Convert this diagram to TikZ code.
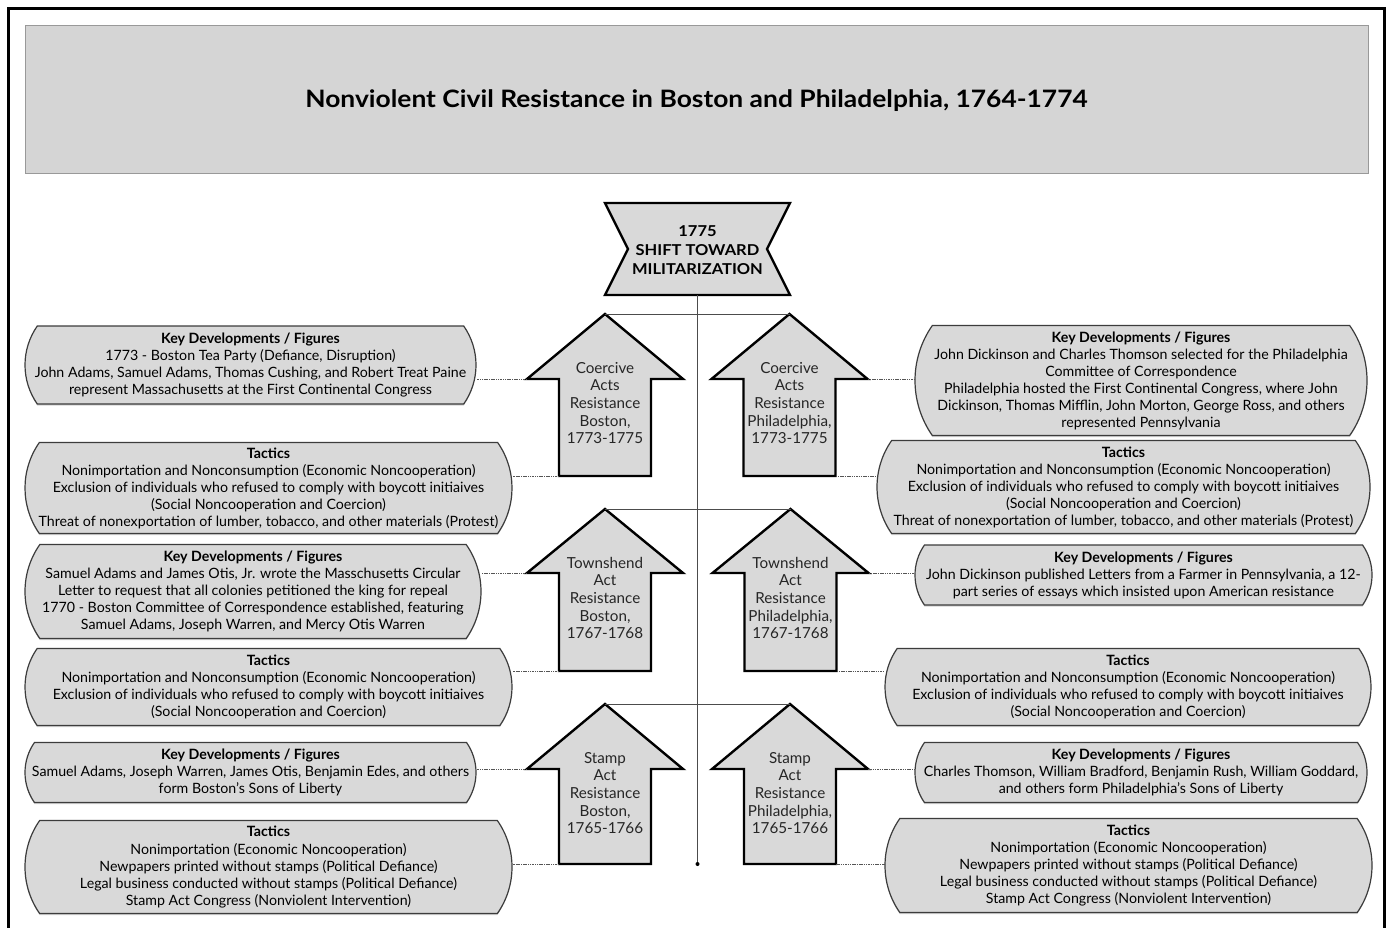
\documentclass[tikz,border=0pt]{standalone}
\usepackage{fontspec}
\setmainfont{Lato}
\newfontfamily\widefont[FakeStretch=1.1]{Lato}
\usetikzlibrary{shapes.misc,shadows}
\definecolor{boxfill}{HTML}{D9D9D9}
\definecolor{titlefill}{HTML}{D5D5D5}
\definecolor{boxline}{HTML}{3C3C3C}
\definecolor{connline}{HTML}{555555}
\newcommand\myuparr[6]{%
  \draw[arrowshape] (#2,#3) coordinate (#1-tip) -- (#2+78,#4) coordinate (#1-wr) -- (#2+46,#4) -- (#2+46,#5) coordinate (#1-br) -- (#2-46,#5) coordinate (#1-bl) -- (#2-46,#4) -- (#2-78,#4) coordinate (#1-wl) -- cycle;
  \node[arrowtext] (#1) at (#2,#3+89) {#6};
}
\begin{document}
\begin{tikzpicture}[x=1pt,y=-1pt,
  kbox/.style={rounded rectangle, rounded rectangle arc length=70, draw=boxline, line width=1.2pt,
    fill=boxfill, align=center, inner sep=0pt, font=\fontsize{14.2}{17}\selectfont,
    drop shadow={opacity=0.35, shadow xshift=0pt, shadow yshift=-1.5pt}},
  arrowshape/.style={draw=black, line width=2.4pt, fill=boxfill, line join=miter},
  arrowtext/.style={align=center, inner sep=0pt, font=\fontsize{15.2}{17.6}\selectfont, text=black!85},
  conn/.style={draw=connline, line width=0.8pt, dash pattern=on 1.5pt off 0.8pt},
  tipline/.style={draw=black!70, line width=0.8pt}]
\useasboundingbox (0,0) rectangle (1391,927);
\fill[white] (0,0) rectangle (1391,927);
% frame
\draw[line width=3pt] (8.5,930) -- (8.5,8.5) -- (1384,8.5) -- (1384,930);
% title
\fill[titlefill, draw=black!40, line width=0.8pt] (25,25) rectangle (1368,173);
\node[inner sep=0pt, font=\widefont\fontsize{24}{28}\selectfont\bfseries] (title) at (696.5,101) {Nonviolent Civil Resistance in Boston and Philadelphia, 1764-1774};
% top shape
\draw[arrowshape] (605,203) -- (790,203) -- (767,249) -- (790,295) coordinate (topbr) -- (605,295) -- (628,249) -- cycle;
\node[align=center, inner sep=0pt, font=\widefont\fontsize{15}{19}\selectfont\bfseries] (top) at (697.5,250) {1775\\SHIFT TOWARD\\MILITARIZATION};
\coordinate (topb) at (697.5,295);
\coordinate (endpt) at (697.5,864);
\draw[tipline] (topb) -- (endpt);
\fill[black] (endpt) circle (2pt);
% arrows
\myuparr{cB}{605}{314}{379}{476}{Coercive\\Acts\\Resistance\\Boston,\\1773-1775}
\myuparr{cP}{789.5}{314}{379}{476}{Coercive\\Acts\\Resistance\\Philadelphia,\\1773-1775}
\myuparr{tB}{605}{509}{573}{671}{Townshend\\Act\\Resistance\\Boston,\\1767-1768}
\myuparr{tP}{790.5}{509}{573}{671}{Townshend\\Act\\Resistance\\Philadelphia,\\1767-1768}
\myuparr{sB}{605}{704}{769}{864}{Stamp\\Act\\Resistance\\Boston,\\1765-1766}
\myuparr{sP}{790}{704}{769}{864}{Stamp\\Act\\Resistance\\Philadelphia,\\1765-1766}
\draw[tipline] (cB-tip) -- (cP-tip);
\draw[tipline] (tB-tip) -- (tP-tip);
\draw[tipline] (sB-tip) -- (sP-tip);
% left boxes
\node[kbox, minimum width=451pt, minimum height=78pt] (L1) at (250.5,365) {\textbf{Key Developments / Figures}\\1773 - Boston Tea Party (Defiance, Disruption)\\John Adams, Samuel Adams, Thomas Cushing, and Robert Treat Paine\\represent Massachusetts at the First Continental Congress};
\node[kbox, minimum width=487pt, minimum height=91pt] (L2) at (268.5,488) {\textbf{Tactics}\\Nonimportation and Nonconsumption (Economic Noncooperation)\\Exclusion of individuals who refused to comply with boycott initiaives\\(Social Noncooperation and Coercion)\\Threat of nonexportation of lumber, tobacco, and other materials (Protest)};
\node[kbox, minimum width=456pt, minimum height=94pt] (L3) at (253,591.5) {\textbf{Key Developments / Figures}\\Samuel Adams and James Otis, Jr. wrote the Masschusetts Circular\\Letter to request that all colonies petitioned the king for repeal\\1770 - Boston Committee of Correspondence established, featuring\\Samuel Adams, Joseph Warren, and Mercy Otis Warren};
\node[kbox, minimum width=487pt, minimum height=77pt] (L4) at (268.5,687) {\textbf{Tactics}\\Nonimportation and Nonconsumption (Economic Noncooperation)\\Exclusion of individuals who refused to comply with boycott initiaives\\(Social Noncooperation and Coercion)};
\node[kbox, minimum width=451pt, minimum height=60pt] (L5) at (250.5,772.5) {\textbf{Key Developments / Figures}\\Samuel Adams, Joseph Warren, James Otis, Benjamin Edes, and others\\form Boston's Sons of Liberty};
\node[kbox, minimum width=487pt, minimum height=93pt] (L6) at (268.5,867) {\textbf{Tactics}\\Nonimportation (Economic Noncooperation)\\Newpapers printed without stamps (Political Defiance)\\Legal business conducted without stamps (Political Defiance)\\Stamp Act Congress (Nonviolent Intervention)};
% right boxes
\node[kbox, minimum width=452pt, minimum height=110pt] (R1) at (1141,380.5) {\textbf{Key Developments / Figures}\\John Dickinson and Charles Thomson selected for the Philadelphia\\Committee of Correspondence\\Philadelphia hosted the First Continental Congress, where John\\Dickinson, Thomas Mifflin, John Morton, George Ross, and others\\represented Pennsylvania};
\node[kbox, minimum width=493pt, minimum height=93pt] (R2) at (1123.5,487) {\textbf{Tactics}\\Nonimportation and Nonconsumption (Economic Noncooperation)\\Exclusion of individuals who refused to comply with boycott initiaives\\(Social Noncooperation and Coercion)\\Threat of nonexportation of lumber, tobacco, and other materials (Protest)};
\node[kbox, minimum width=457pt, minimum height=60pt] (R3) at (1143.5,575) {\textbf{Key Developments / Figures}\\John Dickinson published Letters from a Farmer in Pennsylvania, a 12-\\part series of essays which insisted upon American resistance};
\node[kbox, minimum width=486pt, minimum height=77pt] (R4) at (1128,687) {\textbf{Tactics}\\Nonimportation and Nonconsumption (Economic Noncooperation)\\Exclusion of individuals who refused to comply with boycott initiaives\\(Social Noncooperation and Coercion)};
\node[kbox, minimum width=452pt, minimum height=60pt] (R5) at (1141,772.5) {\textbf{Key Developments / Figures}\\Charles Thomson, William Bradford, Benjamin Rush, William Goddard,\\and others form Philadelphia's Sons of Liberty};
\node[kbox, minimum width=487pt, minimum height=94pt] (R6) at (1128.5,865.5) {\textbf{Tactics}\\Nonimportation (Economic Noncooperation)\\Newpapers printed without stamps (Political Defiance)\\Legal business conducted without stamps (Political Defiance)\\Stamp Act Congress (Nonviolent Intervention)};
% connectors
\draw[conn] (cB-wl) -- (cB-wl -| L1.east);
\draw[conn] (cB-bl) -- (cB-bl -| L2.east);
\draw[conn] (tB-wl) -- (tB-wl -| L3.east);
\draw[conn] (tB-bl) -- (tB-bl -| L4.east);
\draw[conn] (sB-wl) -- (sB-wl -| L5.east);
\draw[conn] (sB-bl) -- (sB-bl -| L6.east);
\draw[conn] (cP-wr) -- (cP-wr -| R1.west);
\draw[conn] (cP-br) -- (cP-br -| R2.west);
\draw[conn] (tP-wr) -- (tP-wr -| R3.west);
\draw[conn] (tP-br) -- (tP-br -| R4.west);
\draw[conn] (sP-wr) -- (sP-wr -| R5.west);
\draw[conn] (sP-br) -- (sP-br -| R6.west);
\end{tikzpicture}
\end{document}
